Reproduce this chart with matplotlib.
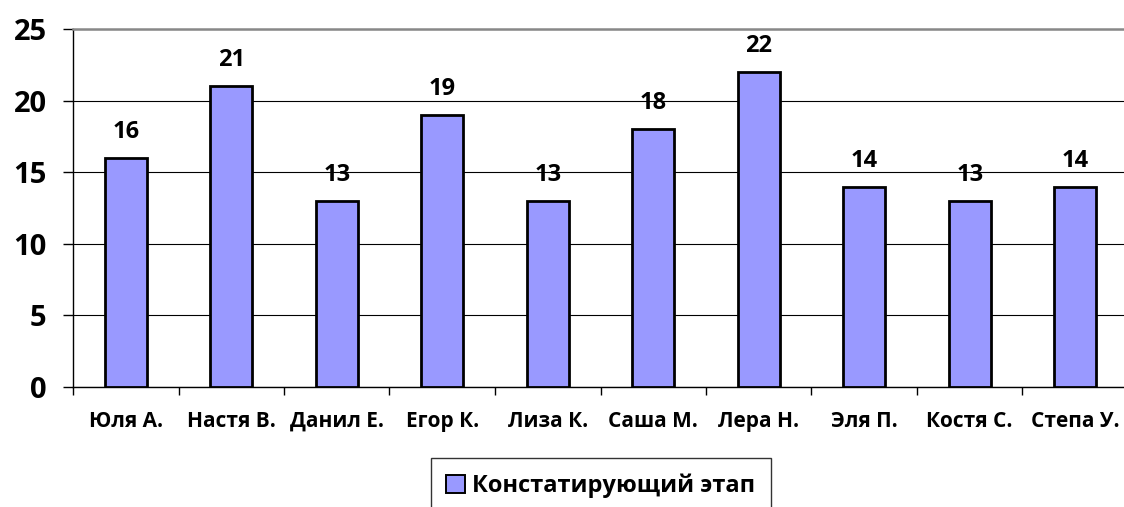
import matplotlib
matplotlib.use("Agg")
import matplotlib.pyplot as plt
from matplotlib.patches import Patch
import numpy as np

plt.rcParams['font.family'] = ['Open Sans', 'DejaVu Sans']
plt.rcParams['font.weight'] = 'bold'

names = ['Юля А.', 'Настя В.', 'Данил Е.', 'Егор К.', 'Лиза К.',
         'Саша М.', 'Лера Н.', 'Эля П.', 'Костя С.', 'Степа У.']
scores = [16, 21, 13, 19, 13, 18, 22, 14, 13, 14]
series_name = 'Констатирующий этап'
y_ticks = [0, 5, 10, 15, 20, 25]

bar_color = '#9999FF'

fig = plt.figure(figsize=(11.24, 5.07), dpi=100)
W, H = 1124, 507
ax = fig.add_axes([73 / W, 1 - 387 / H, (1128 - 73) / W, (387 - 29) / H])

x = np.arange(len(names))
bars = ax.bar(x, scores, width=0.4, color=bar_color, edgecolor='black',
              linewidth=2.0, zorder=3)

for xi, v in zip(x, scores):
    ax.annotate(str(v), (xi, v), xytext=(0, 10), textcoords='offset points',
                ha='center', va='bottom', fontsize=17, fontweight='bold')

ax.set_xlim(-0.5, len(names) - 0.5)
ax.set_ylim(0, 25)
ax.set_yticks(y_ticks)
ax.set_yticklabels([str(t) for t in y_ticks], fontsize=21, fontweight='bold')
ax.set_xticks(x)
ax.set_xticklabels(names, fontsize=15, fontweight='bold')
ax.set_xticks(np.arange(-0.5, len(names), 1), minor=True)

ax.tick_params(axis='x', which='major', length=0, pad=17)
ax.tick_params(axis='x', which='minor', length=6, width=1, direction='out')
ax.tick_params(axis='y', length=7, width=1, direction='out', pad=12)

ax.yaxis.grid(True, color='black', linewidth=0.8, zorder=0)
ax.set_axisbelow(True)

ax.spines['right'].set_visible(False)
ax.spines['top'].set_color('#888888')
ax.spines['top'].set_linewidth(1.8)
ax.spines['left'].set_color('black')
ax.spines['left'].set_linewidth(1)
ax.spines['bottom'].set_color('black')
ax.spines['bottom'].set_linewidth(1)

handle = Patch(facecolor=bar_color, edgecolor='black', linewidth=1.4)
leg = fig.legend([handle], [series_name], loc='center',
                 bbox_to_anchor=(601 / W, 1 - 486 / H),
                 prop={'size': 17, 'weight': 'bold'},
                 handlelength=0.8, handleheight=0.8, handletextpad=0.3,
                 borderpad=0.65, borderaxespad=0, frameon=True, fancybox=False)
leg.get_frame().set_edgecolor('black')
leg.get_frame().set_linewidth(1)

fig.savefig('out.png', dpi=100)
